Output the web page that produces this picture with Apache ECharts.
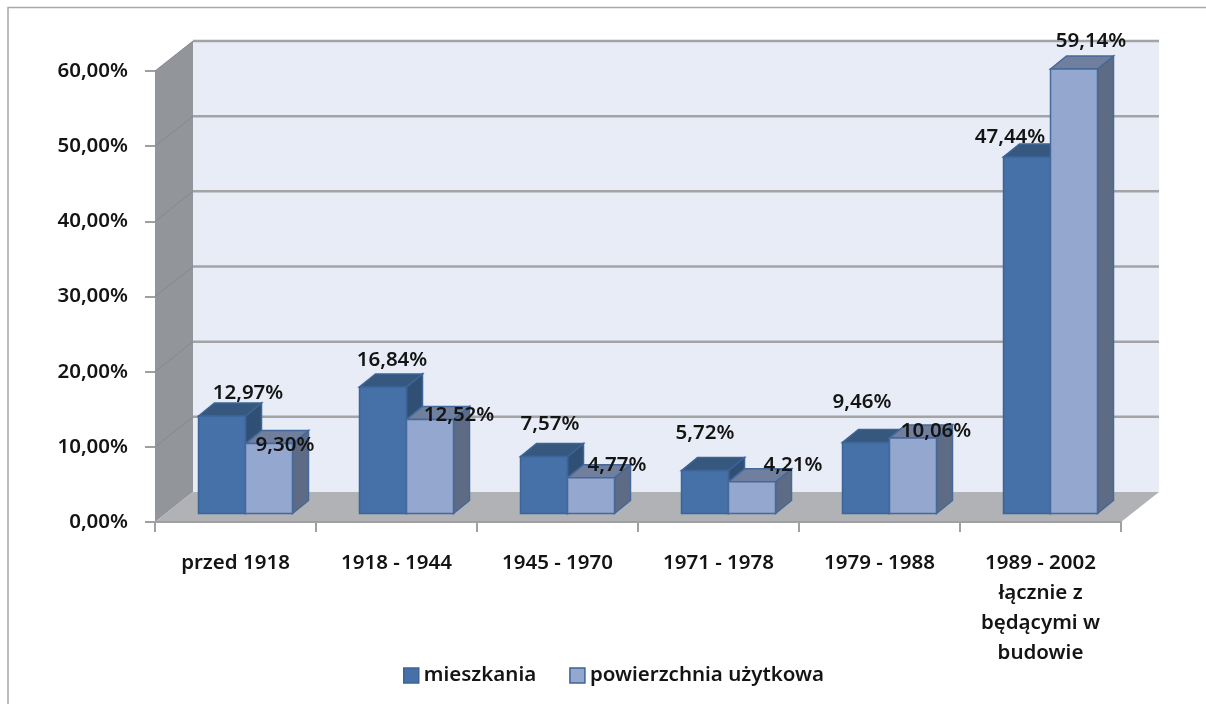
<!DOCTYPE html>
<html>
<head>
<meta charset="utf-8">
<style>
  html, body { margin: 0; padding: 0; background: #fff; }
  #chart { width: 1206px; height: 704px; }
</style>
<script src="https://cdn.jsdelivr.net/npm/echarts@6/dist/echarts.min.js"></script>
</head>
<body>
<div id="chart"></div>
<script>
const categories = [
  "przed 1918",
  "1918 - 1944",
  "1945 - 1970",
  "1971 - 1978",
  "1979 - 1988",
  "1989 - 2002\nłącznie z\nbędącymi w\nbudowie",
];
const mieszkania = [12.97, 16.84, 7.57, 5.72, 9.46, 47.44];
const powierzchnia = [9.3, 12.52, 4.77, 4.21, 10.06, 59.14];
const yTicks = [0, 10, 20, 30, 40, 50, 60];

// the labels were moved by hand in the original, offsets from the top of each bar
const mieszkaniaLabelShift = [[26, -23], [9, -27], [6, -32], [0, -37], [-4, -40], [-17, -20]];
const powierzchniaLabelShift = [[16, 2], [29, -4], [26, -12], [41, -17], [23, -7], [17, -28]];

const FONT = '"Noto Sans", sans-serif';
const FONT_SIZE = 20.5;
const FONT_WEIGHT = 600;
const TEXT_COLOR = "#141414";
const WALL_DX = 38;
const WALL_DY = -30;
const BAR_W = 47;
const BAR_DX = 16;
const BAR_DY = -13;
const FLOOR_X = 10; // bars stand a bit into the floor
const FLOOR_Y = -8.5;

function percent(v) {
  return v.toFixed(2).replace(".", ",") + "%";
}

function poly(points, fill, stroke) {
  return {
    type: "polygon",
    shape: { points: points },
    style: { fill: fill, stroke: stroke || null, lineWidth: stroke ? 1.5 : 0 },
  };
}

function renderWalls(params, api) {
  const children = [];
  const a = api.coord([0, 0]);
  const top = api.coord([0, 60]);
  const left = params.coordSys.x;
  const right = left + params.coordSys.width;
  if (params.dataIndex === 0) {
    children.push(
      poly([[left + WALL_DX, top[1] + WALL_DY], [right + WALL_DX, top[1] + WALL_DY],
        [right + WALL_DX, a[1] + WALL_DY], [left + WALL_DX, a[1] + WALL_DY]], "#e8ecf6"),
      poly([[left, top[1]], [left + WALL_DX, top[1] + WALL_DY],
        [left + WALL_DX, a[1] + WALL_DY], [left, a[1]]], "#92959a"),
      poly([[left, a[1]], [right, a[1]], [right + WALL_DX, a[1] + WALL_DY],
        [left + WALL_DX, a[1] + WALL_DY]], "#b0b2b5")
    );
  }
  const y = api.coord([0, api.value(0)])[1];
  if (api.value(0) > 0) {
    children.push(
      {
        type: "line",
        shape: { x1: left, y1: y, x2: left + WALL_DX, y2: y + WALL_DY },
        style: { stroke: "#85888c", lineWidth: 1 },
      },
      {
        type: "line",
        shape: { x1: left + WALL_DX, y1: y + WALL_DY, x2: right + WALL_DX, y2: y + WALL_DY },
        style: { stroke: "#a4a4a6", lineWidth: 2.5 },
      }
    );
  }
  return { type: "group", children: children };
}

function barRenderer(side, labelShift, colors) {
  return function (params, api) {
    const cat = api.value(0);
    const val = api.value(1);
    const base = api.coord([cat, 0]);
    const tip = api.coord([cat, val]);
    const x0 = base[0] + FLOOR_X + (side < 0 ? -BAR_W : 0);
    const x1 = x0 + BAR_W;
    const y0 = base[1] + FLOOR_Y;
    const y1 = tip[1] + FLOOR_Y;
    const shift = labelShift[cat];
    return {
      type: "group",
      children: [
        poly([[x1, y1], [x1 + BAR_DX, y1 + BAR_DY], [x1 + BAR_DX, y0 + BAR_DY], [x1, y0]], colors.side, colors.edge),
        poly([[x0, y1], [x0 + BAR_DX, y1 + BAR_DY], [x1 + BAR_DX, y1 + BAR_DY], [x1, y1]], colors.top, colors.edge),
        poly([[x0, y1], [x1, y1], [x1, y0], [x0, y0]], colors.front, colors.edge),
        {
          type: "text",
          z2: 50,
          x: (x0 + x1) / 2 + shift[0],
          y: y1 + shift[1],
          style: {
            text: percent(val),
            font: FONT_WEIGHT + " " + FONT_SIZE + "px " + FONT,
            fill: TEXT_COLOR,
            align: "center",
            verticalAlign: "middle",
          },
        },
      ],
    };
  };
}

const darkColors = { front: "#4571a8", top: "#36587f", side: "#2f4f75", edge: "#3c6496" };
const lightColors = { front: "#94a7cf", top: "#6f7f9d", side: "#5e6b85", edge: "#45699a" };

const axisText = {
  fontFamily: FONT,
  fontSize: FONT_SIZE,
  fontWeight: FONT_WEIGHT,
  color: TEXT_COLOR,
};

const chart = echarts.init(document.getElementById("chart"), null, { renderer: "canvas" });
chart.setOption({
  animation: false,
  backgroundColor: "#fff",
  textStyle: { fontFamily: FONT },
  grid: { left: 155, right: 85, top: 71, bottom: 182, containLabel: false },
  graphic: [
    {
      type: "polyline",
      silent: true,
      shape: { points: [[8, 704], [8, 7.5], [1206, 7.5]] },
      style: { fill: null, stroke: "#a8a8a8", lineWidth: 1.5 },
    },
  ],
  legend: {
    left: 398,
    top: 660,
    itemWidth: 15,
    itemHeight: 15,
    itemGap: 33,
    textStyle: axisText,
    data: [
      { name: "mieszkania", icon: "rect", itemStyle: { color: darkColors.front, borderColor: darkColors.edge, borderWidth: 1.5 } },
      { name: "powierzchnia użytkowa", icon: "rect", itemStyle: { color: lightColors.front, borderColor: darkColors.edge, borderWidth: 1.5 } },
    ],
  },
  xAxis: {
    type: "category",
    data: categories,
    axisLine: { lineStyle: { color: "#a0a0a0", width: 2 } },
    axisTick: { show: true, alignWithLabel: false, length: 10, lineStyle: { color: "#a0a0a0", width: 2 } },
    axisLabel: Object.assign({ margin: 26, interval: 0, lineHeight: 30 }, axisText),
  },
  yAxis: {
    type: "value",
    min: 0,
    max: 60,
    interval: 10,
    splitLine: { show: false },
    axisLine: { show: false },
    axisTick: { show: true, length: 10, lineStyle: { color: "#a0a0a0", width: 2 } },
    axisLabel: Object.assign({
      margin: 27,
      formatter: function (v) { return yTicks.includes(v) ? percent(v) : ""; },
    }, axisText),
  },
  series: [
    {
      name: "walls",
      type: "custom",
      silent: true,
      clip: false,
      z: 0,
      encode: { y: 0 },
      data: yTicks.map((v) => [v]),
      renderItem: renderWalls,
    },
    {
      name: "mieszkania",
      type: "custom",
      clip: false,
      z: 2,
      itemStyle: { color: darkColors.front },
      encode: { x: 0, y: 1 },
      data: mieszkania.map((v, i) => [i, v]),
      renderItem: barRenderer(-1, mieszkaniaLabelShift, darkColors),
    },
    {
      name: "powierzchnia użytkowa",
      type: "custom",
      clip: false,
      z: 3,
      itemStyle: { color: lightColors.front },
      encode: { x: 0, y: 1 },
      data: powierzchnia.map((v, i) => [i, v]),
      renderItem: barRenderer(1, powierzchniaLabelShift, lightColors),
    },
  ],
});
</script>
</body>
</html>
